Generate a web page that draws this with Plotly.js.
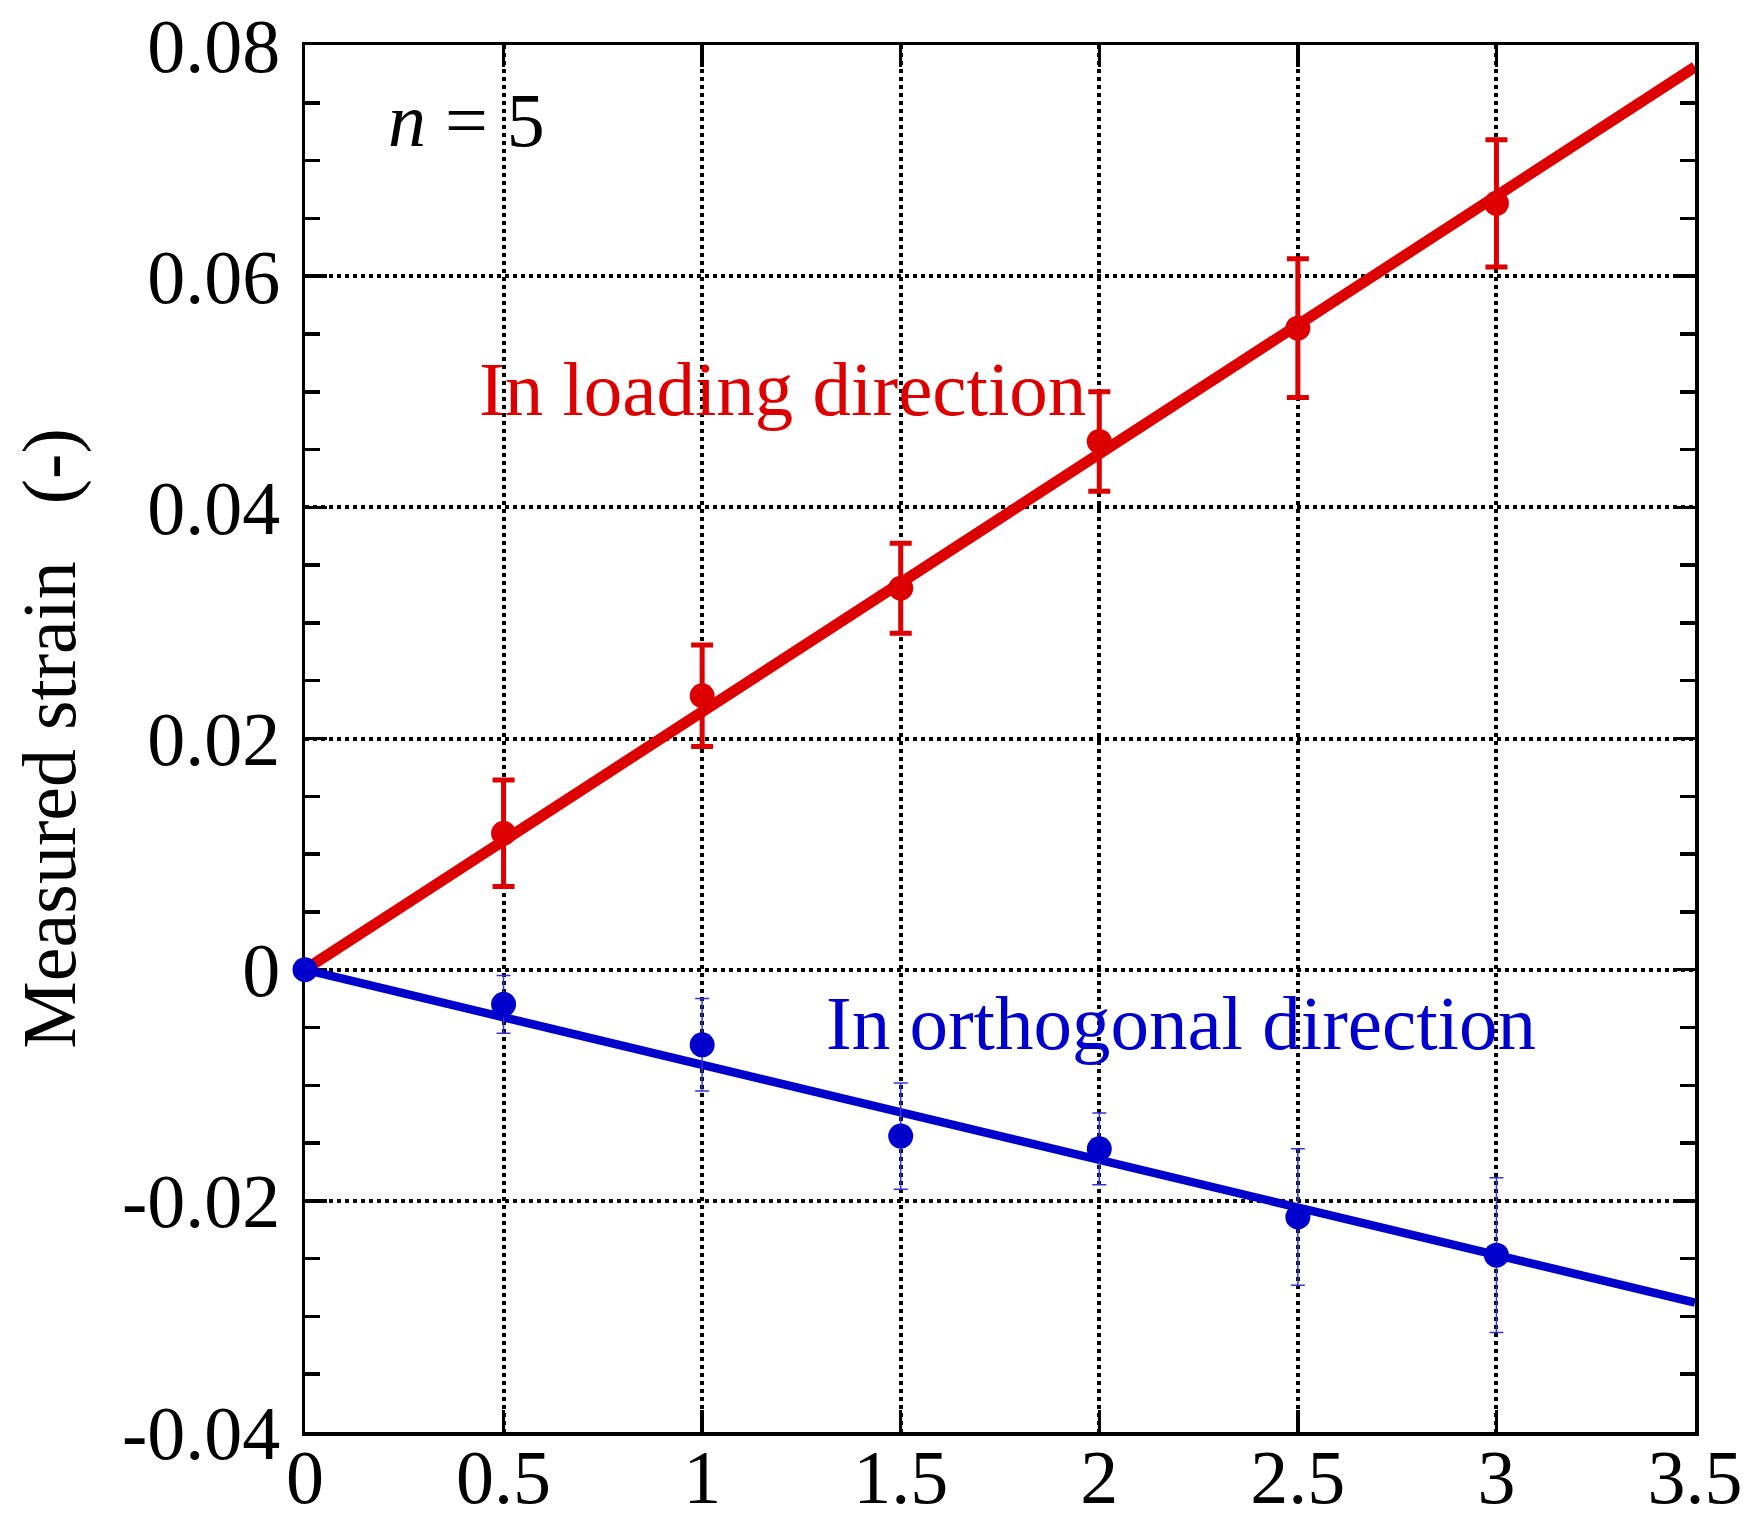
<!DOCTYPE html>
<html>
<head>
<meta charset="utf-8">
<script src="https://cdn.plot.ly/plotly-3.0.1.min.js"></script>
<style>html,body{margin:0;padding:0;background:#fff;}#chart{width:1747px;height:1521px;}</style>
</head>
<body>
<div id="chart"></div>
<script>
// Data
const loadX = [0.5, 1, 1.5, 2, 2.5, 3];
const loadY = [0.0118, 0.0237, 0.0330, 0.0457, 0.0555, 0.0663];
const loadErr = [0.0046, 0.0044, 0.0039, 0.0043, 0.0060, 0.0055];
const loadFitX = [0, 3.5];
const loadFitY = [0, 0.0781];

const orthoX = [0, 0.5, 1, 1.5, 2, 2.5, 3];
const orthoY = [0, -0.0030, -0.0065, -0.0144, -0.0155, -0.0214, -0.0247];
const orthoErr = [0, 0.0025, 0.0040, 0.0046, 0.0031, 0.0059, 0.0067];
const orthoFitX = [0, 3.5];
const orthoFitY = [0, -0.0288];

const xTickVals = [0, 0.5, 1, 1.5, 2, 2.5, 3, 3.5];
const xTickText = ["0", "0.5", "1", "1.5", "2", "2.5", "3", "3.5"];
const yTickVals = [-0.04, -0.02, 0, 0.02, 0.04, 0.06, 0.08];
const yTickText = ["-0.04", "-0.02", "0", "0.02", "0.04", "0.06", "0.08"];
const yMinorVals = [-0.035, -0.03, -0.025, -0.015, -0.01, -0.005, 0.005, 0.01, 0.015,
                    0.025, 0.03, 0.035, 0.045, 0.05, 0.055, 0.065, 0.07, 0.075];

const RED = "#dd0000";
const BLUE = "#0000cc";
const FONT = "Liberation Serif, Times New Roman, serif";

const traces = [
  {x: loadFitX, y: loadFitY, mode: "lines", line: {color: RED, width: 11}, hoverinfo: "skip"},
  {x: loadX, y: loadY, mode: "markers", marker: {color: RED, size: 25}, cliponaxis: false,
   error_y: {type: "data", array: loadErr, visible: true, color: RED, thickness: 5, width: 11}},
  {x: orthoFitX, y: orthoFitY, mode: "lines", line: {color: BLUE, width: 8.5}, hoverinfo: "skip"},
  {x: orthoX, y: orthoY, mode: "markers", marker: {color: BLUE, size: 25}, cliponaxis: false,
   error_y: {type: "data", array: orthoErr, visible: true, color: "#3333dd", thickness: 1.5, width: 7}}
];

const axisCommon = {
  showline: true, linecolor: "#000", linewidth: 3.5, mirror: "ticks",
  ticks: "inside", ticklen: 22, tickwidth: 3.5, tickcolor: "#000",
  showgrid: true, gridcolor: "#000", gridwidth: 4, griddash: "4px,4px",
  zeroline: false, tickfont: {family: FONT, size: 76, color: "#000"},
  tickmode: "array", layer: "below traces"
};

const layout = {
  width: 1747, height: 1521,
  margin: {l: 305, r: 52, t: 45, b: 89},
  paper_bgcolor: "#fff", plot_bgcolor: "#fff",
  showlegend: false,
  font: {family: FONT, color: "#000"},
  xaxis: Object.assign({}, axisCommon, {
    range: [0, 3.5], tickvals: xTickVals, ticktext: xTickText, ticklabelstandoff: -24
  }),
  yaxis: Object.assign({}, axisCommon, {
    range: [-0.04, 0.08], tickvals: yTickVals, ticktext: yTickText, ticklabelstandoff: 6,
    minor: {tickvals: yMinorVals, ticks: "inside", ticklen: 15, tickwidth: 3.5, tickcolor: "#000", showgrid: false},
    title: {text: "Measured strain   (-)", font: {family: FONT, size: 76, color: "#000"}, standoff: 22}
  }),
  annotations: [
    {x: 0.433, y: 0.0502, xref: "x", yref: "y", xanchor: "left", yanchor: "middle", showarrow: false,
     text: "In loading direction", font: {family: FONT, size: 77, color: RED}},
    {x: 1.307, y: -0.0046, xref: "x", yref: "y", xanchor: "left", yanchor: "middle", showarrow: false,
     text: "In orthogonal direction", font: {family: FONT, size: 77, color: BLUE}},
    {x: 0.205, y: 0.0735, xref: "x", yref: "y", xanchor: "left", yanchor: "middle", showarrow: false,
     text: "<i>n</i> = 5", font: {family: FONT, size: 76, color: "#000"}}
  ]
};

Plotly.newPlot("chart", traces, layout, {staticPlot: true, displayModeBar: false});
</script>
</body>
</html>
